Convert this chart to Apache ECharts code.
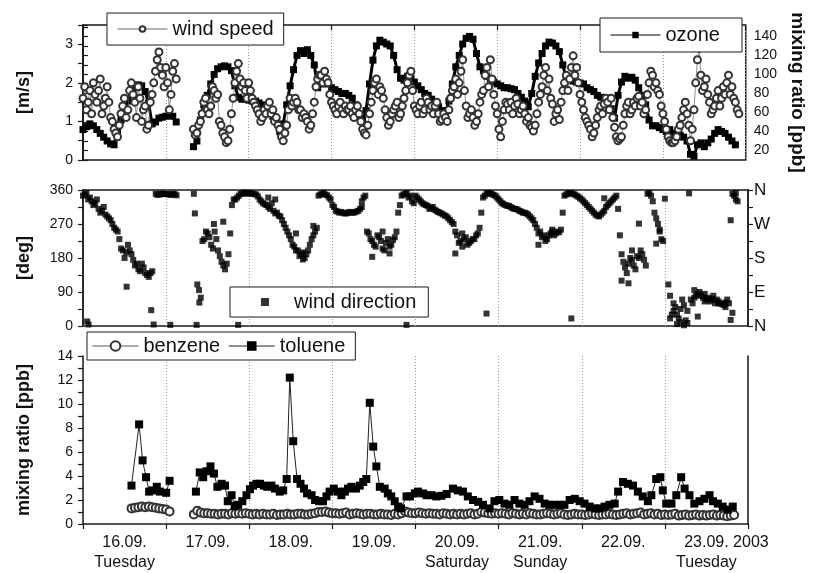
<!DOCTYPE html>
<html><head><meta charset="utf-8">
<script src="https://cdn.jsdelivr.net/npm/echarts@6/dist/echarts.min.js"></script>
<style>html,body{margin:0;padding:0;background:#fff}#c{width:815px;height:573px}</style>
</head><body><div id="c"></div>
<script>
// time axis: hours since 16.09.2003 00:00 (192 h = 8 days)
const dayLabels = ['16.09.','17.09.','18.09.','19.09.','20.09.','21.09.','22.09.','23.09.'];
const weekdays = ['Tuesday','','','','Saturday','Sunday','','Tuesday'];
const compassLabels = {0:'N',90:'E',180:'S',270:'W',360:'N'};

// wind speed [m/s], on the full hour
const windSpeed = [
 1.6,1.3,1.8,2.0,1.5,2.1,1.4,1.9,1.1,0.8,0.6,1.2,1.6,1.3,2.0,1.5,1.9,1.0,1.4,0.9,1.7,2.3,2.8,2.2,
 2.4,1.3,2.3,2.1,null,null,null,null,0.8,0.7,1.0,1.5,1.3,1.4,1.8,1.7,0.9,0.6,0.5,1.2,2.0,2.5,1.9,1.8,
 2.0,1.6,1.4,1.2,1.1,1.2,1.5,1.3,1.1,0.8,0.5,0.9,1.6,1.5,1.5,1.3,1.2,1.0,0.9,1.5,2.1,2.2,2.3,2.0,
 1.5,1.3,1.4,1.3,1.4,1.3,1.2,1.3,1.2,0.8,0.65,1.2,1.8,2.1,1.9,1.6,1.1,1.0,1.3,1.5,1.2,1.6,2.0,2.3,
 1.4,1.2,1.5,1.3,1.5,1.4,1.4,1.2,1.05,1.1,1.3,1.8,2.1,2.0,2.6,1.4,1.2,1.1,1.0,1.5,1.8,2.4,2.6,1.7,
 1.2,0.6,1.3,1.45,1.5,1.4,1.45,1.3,1.2,1.1,0.85,0.9,1.5,1.9,2.4,2.1,1.45,1.2,1.05,1.8,2.2,2.1,2.7,2.4,
 1.7,1.3,1.0,0.8,0.7,1.1,1.4,1.45,1.5,1.6,0.85,0.5,0.6,1.2,1.5,1.3,1.4,1.65,1.5,1.3,2.0,2.2,2.0,1.7,
 1.2,0.8,0.5,0.45,0.6,0.9,1.3,1.2,0.5,1.3,2.6,2.2,1.9,1.7,1.2,1.4,1.8,1.6,1.7,2.2,1.9,1.5,1.2,null
];
// wind speed [m/s], on the half hour (h + 0.5)
const windSpeedHalf = [
 1.9,1.5,1.2,1.7,1.8,1.2,1.6,1.5,1.0,0.7,0.9,1.4,1.1,1.8,1.7,1.1,1.6,1.3,0.8,1.5,2.0,2.6,2.4,1.9,
 2.0,1.7,2.5,null,null,null,null,null,0.65,0.9,1.2,1.6,1.2,1.9,1.6,1.0,0.7,0.45,0.8,1.6,2.3,2.1,2.0,1.6,
 1.8,1.5,1.3,1.0,1.3,1.4,1.2,1.0,0.9,0.6,0.7,1.3,1.4,1.6,1.3,1.1,1.1,0.8,1.2,1.9,2.2,2.0,2.1,1.7,
 1.4,1.2,1.5,1.2,1.3,1.4,1.1,1.4,1.0,0.7,0.9,1.5,2.0,1.7,1.8,1.3,0.9,1.2,1.4,1.1,1.4,1.8,2.2,1.8,
 1.3,1.4,1.2,1.6,1.3,1.2,1.5,1.0,1.2,1.0,1.6,1.9,1.7,2.3,1.8,1.1,1.3,0.9,1.2,1.7,2.2,1.9,2.1,1.4,
 0.8,1.0,1.5,1.3,1.2,1.6,1.2,1.4,1.0,0.9,0.75,1.2,1.7,2.2,1.8,1.6,1.0,1.3,1.5,2.0,1.8,2.4,2.2,2.0,
 1.5,1.1,0.9,0.6,0.9,1.3,1.2,1.6,1.3,1.1,0.6,0.55,0.9,1.4,1.2,1.5,1.6,1.4,1.2,1.7,2.3,1.9,1.8,1.4,
 1.0,0.6,0.45,0.5,0.8,1.1,1.5,0.9,0.8,2.0,2.9,1.8,2.1,1.5,1.3,1.6,1.4,1.9,2.0,1.7,1.6,1.3,null,null
];
// ozone [ppb], hourly
const ozone = [
 42,45,48,46,42,38,34,30,27,26,40,52,62,72,80,86,89,88,82,70,48,50,54,55,
 56,57,56,50,null,null,null,null,24,30,52,68,78,90,100,106,108,109,108,104,88,76,74,74,
 73,72,72,70,68,64,60,56,52,40,48,68,88,105,120,125,122,126,120,110,86,90,92,90,
 86,84,82,80,80,78,75,68,58,52,62,90,115,130,136,134,132,130,120,105,96,94,98,96,
 92,88,84,80,78,74,70,66,62,60,72,90,108,120,132,138,140,137,122,108,104,98,95,92,
 90,88,86,86,85,84,80,76,72,66,80,98,112,122,130,134,133,130,124,110,96,95,93,92,
 91,90,86,84,82,78,76,74,70,64,54,78,92,98,96,97,94,86,78,68,52,46,46,44,
 42,40,42,38,36,36,34,30,16,14,26,28,24,28,32,38,42,40,38,34,30,26,null,null
];
// wind direction [deg], on the full hour
const windDir = [
 345,352,340,320,335,300,315,290,280,260,250,205,180,215,190,160,150,165,140,130,145,350,348,350,
 350,348,350,346,null,null,null,null,350,110,75,230,245,215,250,200,170,150,190,320,335,345,350,352,
 352,350,348,335,325,320,310,305,300,290,270,250,230,210,200,190,180,200,230,250,345,350,348,340,
 320,305,300,300,298,302,300,303,310,340,250,230,215,240,225,200,230,215,235,300,345,350,340,330,
 345,335,325,320,310,315,305,300,295,290,280,270,240,225,230,215,225,230,245,300,345,352,350,345,
 335,325,320,318,312,310,305,300,298,290,280,260,250,240,230,245,240,250,255,345,350,352,348,342,
 335,325,315,305,295,290,300,315,325,335,345,240,170,140,180,160,185,200,175,350,345,300,270,230,
 337,110,30,50,20,70,15,351,60,80,90,75,70,65,80,70,60,55,70,280,345,330,null,null
];
// wind direction [deg], on the half hour (h + 0.5)
const windDirHalf = [
 348,335,330,325,310,305,295,285,270,255,230,200,195,200,175,165,145,155,135,140,null,347,350,349,
 349,347,349,null,null,null,null,null,null,95,225,250,235,205,230,185,160,165,245,335,340,350,353,350,
 351,349,343,330,322,315,325,298,292,280,260,240,215,200,185,195,190,215,240,260,348,352,346,335,
 315,303,302,298,300,300,301,305,315,345,245,225,210,235,205,220,210,228,250,320,348,352,345,325,
 340,330,322,318,312,308,302,298,292,285,275,250,220,210,235,220,230,240,260,340,350,351,347,340,
 330,322,318,315,310,308,303,300,295,285,270,245,235,225,240,250,245,248,300,348,352,349,345,338,
 330,320,310,300,292,295,305,320,330,340,310,190,155,165,175,150,180,190,160,352,330,285,255,225,
 null,80,40,30,10,55,8,70,75,85,80,65,75,70,60,65,58,62,60,350,335,null,null,null
];
// additional single wind direction readings [hour, deg]
const windDirExtra = [
 [1.2,12],[1.6,4],[12.6,104],[19.7,42],[20.4,4],[25.2,3],[32.3,298],[32.8,3],[33.6,62],[37.8,270],
 [40.5,276],[44.8,3],[53.5,340],[55.5,335],[61.5,245],[63.5,176],[66.5,265],[80.5,330],[83.5,183],
 [86.5,250],[88.5,192],[93.4,3],[107.5,192],[109.5,245],[116.5,33],[131.5,215],[135.5,255],[141,20],
 [150.5,338],[155.5,120],[157.5,113],[158.5,200],[160.5,271],[165.5,218],[166.5,250],[169.5,20],
 [170.5,60],[171.5,5],[172.5,45],[173.5,2],[174.5,40],[176.5,95],[177.5,25],[179.5,85],[181.5,72],
 [183.5,60],[185.5,50],[187,16],[187.5,35],[188.5,352]
];
// benzene [ppb], hourly
const benzene = [
 null,null,null,null,null,null,null,null,null,null,null,null,null,null,1.3,1.35,1.4,1.45,1.4,1.45,1.4,1.35,1.3,1.25,
 1.2,1.05,null,null,null,null,null,null,0.8,1.1,0.95,0.9,0.9,0.85,0.85,0.8,0.85,0.85,0.8,0.9,0.85,0.9,0.85,0.9,
 0.85,0.8,0.85,0.8,0.85,0.8,0.8,0.85,0.75,0.8,0.8,0.85,0.8,0.8,0.85,0.85,0.8,0.8,0.85,0.9,1.0,1.0,1.05,0.95,
 0.9,0.9,0.85,0.9,0.95,0.8,0.85,0.9,0.85,0.8,0.85,0.85,0.8,0.8,0.85,0.8,0.8,0.75,0.85,0.8,0.9,1.05,0.95,0.9,
 0.9,0.95,0.9,0.85,0.9,0.85,0.85,0.8,0.9,0.85,0.8,0.85,0.8,0.85,0.8,0.85,0.9,0.8,0.85,1.0,0.95,0.9,0.85,0.9,
 0.85,0.9,0.85,0.8,0.9,0.85,0.8,0.85,0.8,0.9,0.85,0.8,0.8,0.85,0.9,0.85,0.8,0.85,0.9,0.8,0.75,0.8,0.85,0.8,
 0.8,0.75,0.8,0.85,0.8,0.75,0.8,0.8,0.85,0.8,0.75,0.8,0.85,0.9,0.8,0.85,0.9,0.95,0.8,0.85,0.9,0.8,0.85,0.75,
 0.8,0.75,0.8,0.85,0.7,0.75,0.8,0.7,0.75,0.8,0.7,0.75,0.7,0.75,0.8,0.7,0.75,0.7,0.65,0.7,0.75,null,null,null
];
// toluene [hour, ppb]
const toluene = [
 [14.0,3.2],[16.2,8.3],[17.2,5.3],[18.2,3.9],[19.1,2.7],[20.0,2.8],[21.3,3.1],[22.2,2.7],[24.0,2.6],[25.0,3.6],
 [28,null],
 [32.6,2.7],[33.7,4.3],[34.7,3.9],[35.7,4.4],[36.8,4.8],[37.8,4.2],[38.8,3.1],[40.0,3.35],[41.0,3.2],[41.8,1.9],
 [42.9,2.4],[43.8,1.5],[44.8,1.6],[46.0,1.9],[47.2,2.4],[48.2,2.9],[49.1,3.2],[50.1,3.35],[51.1,3.35],[52.2,3.2],
 [53.2,3.1],[54.4,3.2],[55.4,2.95],[56.8,2.7],[57.8,2.8],[58.8,3.75],[59.7,12.2],[60.7,6.9],[61.8,3.75],[62.8,3.35],
 [63.8,2.95],[64.7,2.55],[66.0,2.4],[67.0,2.0],[68.2,1.9],[69.3,1.9],[70.3,2.3],[71.2,2.7],[72.4,2.95],[73.6,2.7],
 [74.6,2.4],[75.6,2.7],[76.5,2.95],[77.5,3.1],[78.8,2.95],[79.9,3.2],[80.9,3.5],[81.8,3.75],[82.8,10.1],[83.8,6.45],
 [84.7,4.8],[85.7,3.1],[87.1,2.95],[88.0,2.55],[89.0,2.3],[90.0,1.9],[91.0,1.45],[91.8,1.3],[93.4,2.3],[94.4,2.3],
 [95.8,2.55],[96.7,2.7],[98.2,2.55],[99.2,2.4],[100.6,2.4],[102.0,2.3],[103.5,2.35],[105,2.5],[106.8,2.95],[108.2,2.8],
 [109.7,2.7],[111.1,2.3],[112.6,2.0],[114.1,1.85],[115.5,1.6],[117.4,1.3],[118.8,1.9],[120.2,2.0],[121.7,1.7],[123.1,1.6],
 [124.6,2.0],[126,1.7],[127.5,1.6],[128.9,1.9],[130.4,2.3],[131.8,2.1],[133.3,1.7],[134.7,1.6],[136.2,1.6],[137.6,1.6],
 [139,1.6],[140.5,2.0],[142,2.1],[143.4,1.9],[144.8,1.7],[146.3,1.45],[147.7,1.3],[149.2,1.3],[150.6,1.45],[152,1.6],
 [153.5,1.7],[154.5,2.7],[155.9,3.5],[157.3,3.35],[158.8,3.2],[160.2,2.7],[161.6,2.3],[163.1,1.9],[164.1,2.4],[165.5,3.75],
 [166.7,3.9],[167.4,2.8],[168.4,1.7],[169.9,1.7],[171.3,2.4],[172.7,3.9],[173.7,2.95],[175.1,2.4],[176.5,1.7],[178,1.9],
 [179.4,2.1],[180.9,2.4],[181.9,1.9],[183.3,1.7],[184.7,1.45],[186.1,1.2],[187.6,1.45]
];

const FONT = '"Liberation Sans", Arial, Helvetica, sans-serif';
const BLACK = '#1a1a1a';
const hourly = (arr, off) => arr.map((v, i) => [i + (off || 0), v]);
const merged = (a, b) => hourly(a).concat(hourly(b, 0.5)).sort((p, q) => p[0] - q[0]);

const gridL = 83, gridW = 665;
const xBase = (gi, extra) => Object.assign({
  type: 'value', gridIndex: gi, min: 0, max: 192, interval: 24,
  axisLabel: {show: false}, axisTick: {show: false},
  axisLine: {show: false},
  splitLine: {show: true, lineStyle: {type: [1, 2], color: '#999', width: 1}}
}, extra || {});

const axLine = {show: true, lineStyle: {color: BLACK, width: 1.5}};
const tickOut = {show: true, inside: false, length: 5, lineStyle: {color: BLACK, width: 1.2}};
const lblStyle = {fontFamily: FONT, fontSize: 14, color: '#111'};
const nameStyle = {fontFamily: FONT, fontSize: 18, fontWeight: 'bold', color: '#111'};
const legendText = {fontFamily: FONT, fontSize: 20, color: '#111'};

const option = {
  animation: false,
  backgroundColor: '#fff',
  textStyle: {fontFamily: FONT},
  grid: [
    {left: gridL, top: 25, width: gridW, height: 135, show: true, borderColor: BLACK, borderWidth: 1.5, backgroundColor: 'transparent'},
    {left: gridL, top: 190, width: gridW, height: 136, show: true, borderColor: BLACK, borderWidth: 1.5, backgroundColor: 'transparent'},
    {left: gridL, top: 356, width: gridW, height: 172, show: false}
  ],
  xAxis: [
    xBase(0),
    xBase(0, {position: 'top', splitLine: {show: false}, axisTick: {show: true, inside: true, length: 5, lineStyle: {color: BLACK, width: 1.2}}}),
    xBase(1),
    xBase(2, {axisLine: axLine, axisTick: tickOut}),
    {type: 'category', gridIndex: 2, data: dayLabels, boundaryGap: true, position: 'bottom',
     axisLine: {show: false}, axisTick: {show: false}, splitLine: {show: false},
     axisLabel: {interval: 0, margin: 9, fontFamily: FONT, fontSize: 16, lineHeight: 20, color: '#111',
       formatter: (v, i) => {
         const wd = weekdays[i] ? '\n' + weekdays[i] : '';
         if (i === dayLabels.length - 1) return '{p|}' + v + ' 2003' + wd;
         return v + wd;
       },
       rich: {p: {width: 40}}}}
  ],
  yAxis: [
    {type: 'value', gridIndex: 0, min: 0, max: 3.5, interval: 0.5, position: 'left',
     axisLine: axLine, axisTick: tickOut, splitLine: {show: false},
     axisLabel: Object.assign({margin: 10, formatter: v => (Math.abs(v - Math.round(v)) < 1e-6 ? String(Math.round(v)) : '')}, lblStyle),
     name: '[m/s]', nameLocation: 'middle', nameGap: 50, nameTextStyle: nameStyle},
    {type: 'value', gridIndex: 0, min: 10, max: 152, interval: 10, position: 'right',
     axisLine: axLine, axisTick: tickOut, splitLine: {show: false},
     axisLabel: Object.assign({margin: 8, formatter: v => (v % 20 === 0 && v >= 20 && v <= 140 ? String(v) : '')}, lblStyle),
     name: 'mixing ratio [ppb]', nameLocation: 'middle', nameRotate: -90, nameGap: 42,
     nameTextStyle: Object.assign({}, nameStyle, {fontSize: 19})},
    {type: 'value', gridIndex: 1, min: 0, max: 360, interval: 45, position: 'left',
     axisLine: axLine, axisTick: tickOut, splitLine: {show: false},
     axisLabel: Object.assign({margin: 10, formatter: v => (v % 90 === 0 ? String(v) : '')}, lblStyle),
     name: '[deg]', nameLocation: 'middle', nameGap: 50, nameTextStyle: nameStyle},
    {type: 'value', gridIndex: 1, min: 0, max: 360, interval: 45, position: 'right',
     axisLine: axLine, axisTick: tickOut, splitLine: {show: false},
     axisLabel: {margin: 6, fontFamily: FONT, fontSize: 17, color: '#111', formatter: v => (compassLabels[v] !== undefined ? compassLabels[v] : '')}},
    {type: 'value', gridIndex: 2, min: 0, max: 14, interval: 1, position: 'left',
     axisLine: axLine, axisTick: tickOut, splitLine: {show: false},
     axisLabel: Object.assign({margin: 10, formatter: v => (v % 2 === 0 ? String(v) : '')}, lblStyle),
     name: 'mixing ratio [ppb]', nameLocation: 'middle', nameGap: 50, nameTextStyle: nameStyle},
    {type: 'value', gridIndex: 2, min: 0, max: 14, position: 'right',
     axisLine: axLine, axisTick: {show: false}, axisLabel: {show: false}, splitLine: {show: false}}
  ],
  legend: [
    {data: ['wind speed'], left: 107, top: 13, backgroundColor: '#fff', borderColor: BLACK, borderWidth: 1,
     padding: [6, 10, 6, 10], itemWidth: 50, itemHeight: 7, itemGap: 6,
     lineStyle: {width: 1}, textStyle: legendText},
    {data: ['ozone'], left: 600, top: 18, backgroundColor: '#fff', borderColor: BLACK, borderWidth: 1,
     padding: [7, 22, 7, 10], itemWidth: 50, itemHeight: 8,
     lineStyle: {width: 1}, textStyle: legendText},
    {data: ['wind direction'], left: 230, top: 287, backgroundColor: '#fff', borderColor: BLACK, borderWidth: 1,
     padding: [5, 12, 5, 31], itemWidth: 8, itemHeight: 8,
     textStyle: Object.assign({}, legendText, {padding: [0, 0, 0, 20]})},
    {data: ['benzene', 'toluene'], left: 87, top: 332, backgroundColor: '#fff', borderColor: BLACK, borderWidth: 1,
     padding: [4, 10, 4, 5], itemWidth: 46, itemHeight: 12, itemGap: 8,
     lineStyle: {width: 1}, textStyle: legendText}
  ],
  series: [
    {name: 'ozone', type: 'line', xAxisIndex: 0, yAxisIndex: 1, data: hourly(ozone),
     symbol: 'rect', symbolSize: 7, showSymbol: true, connectNulls: false,
     itemStyle: {color: '#000'}, lineStyle: {color: '#000', width: 3}, z: 2},
    {name: 'wind speed', type: 'line', xAxisIndex: 0, yAxisIndex: 0, data: merged(windSpeed, windSpeedHalf),
     symbol: 'emptyCircle', symbolSize: 7, showSymbol: true, connectNulls: false,
     itemStyle: {color: '#333', borderWidth: 1}, lineStyle: {color: '#666', width: 0.7}, z: 3},
    {name: 'wind direction', type: 'scatter', xAxisIndex: 2, yAxisIndex: 2,
     data: merged(windDir, windDirHalf).filter(p => p[1] !== null).concat(windDirExtra),
     symbol: 'rect', symbolSize: 6, itemStyle: {color: '#000'}},
    {name: 'benzene', type: 'line', xAxisIndex: 3, yAxisIndex: 4, data: hourly(benzene),
     symbol: 'emptyCircle', symbolSize: 8, showSymbol: true, connectNulls: false,
     itemStyle: {color: '#333', borderWidth: 1}, lineStyle: {color: '#555', width: 0.8}, z: 2},
    {name: 'toluene', type: 'line', xAxisIndex: 3, yAxisIndex: 4, data: toluene,
     symbol: 'rect', symbolSize: 8, showSymbol: true, connectNulls: false,
     itemStyle: {color: '#000'}, lineStyle: {color: '#222', width: 1}, z: 3}
  ]
};

const chart = echarts.init(document.getElementById('c'), null, {renderer: 'canvas'});
chart.setOption(option);
</script>
</body></html>
